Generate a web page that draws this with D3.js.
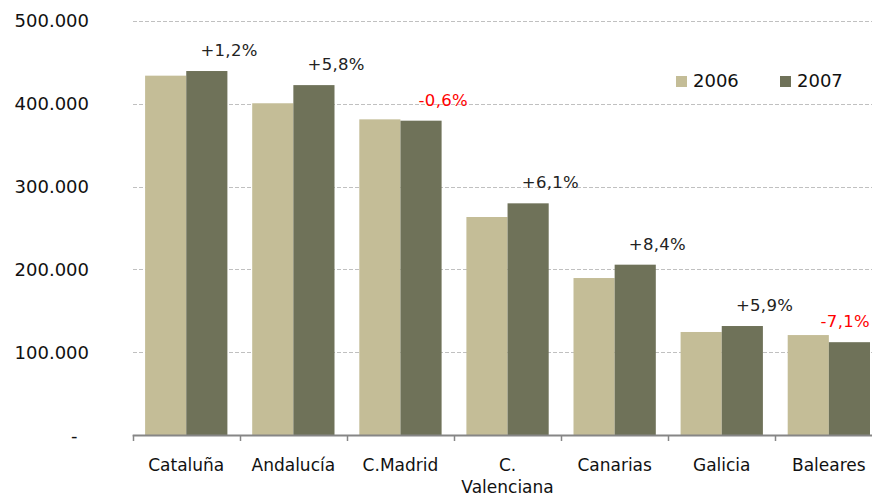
<!DOCTYPE html>
<html lang="es">
<head>
<meta charset="utf-8">
<title>2006 vs 2007 por comunidad</title>
<script src="https://cdn.jsdelivr.net/npm/d3@7"></script>
<style>
  body { margin: 0; background: #fff; }
  svg { display: block; font-family: "DejaVu Sans", Verdana, sans-serif; }
</style>
</head>
<body>
<script>
// datos
var categorias = ["Cataluña", "Andalucía", "C.Madrid", "C. Valenciana", "Canarias", "Galicia", "Baleares"];
var valores2006 = [433700, 400400, 381000, 263200, 189600, 124500, 120800];
var valores2007 = [439300, 422300, 379400, 279700, 205700, 131700, 112200];
var variacion = ["+1,2%", "+5,8%", "-0,6%", "+6,1%", "+8,4%", "+5,9%", "-7,1%"];
var series = ["2006", "2007"];
var yTicks = [0, 100000, 200000, 300000, 400000, 500000];

var w = 872, h = 495;
var colores = { "2006": "#c4bd97", "2007": "#6f7259" };

var svg = d3.select("body").append("svg")
    .attr("width", w)
    .attr("height", h);

// escalas
var x = d3.scaleBand()
    .domain(categorias)
    .range([132.7, 132.7 + 107.1 * categorias.length])
    .paddingInner(0)
    .paddingOuter(0);

var xIn = d3.scaleBand()
    .domain(series)
    .range([12.4, 107.1 - 12.4]);

var y = d3.scaleLinear()
    .domain([0, 500000])
    .range([435.2, 20.7]);

var fmt = function(d) {
    if (d === 0) return "-\u00a0\u00a0";
    return d3.format(",")(d).replace(/,/g, ".");
};

// lineas de cuadricula
svg.append("g")
    .selectAll("line")
    .data(yTicks.filter(function(d) { return d > 0; }))
    .enter().append("line")
    .attr("x1", 133)
    .attr("x2", w)
    .attr("y1", function(d) { return Math.round(y(d)) + 0.5; })
    .attr("y2", function(d) { return Math.round(y(d)) + 0.5; })
    .attr("stroke", "#c0c0c0")
    .attr("stroke-width", 1)
    .attr("stroke-dasharray", "4,2");

// etiquetas eje y
svg.append("g")
    .selectAll("text")
    .data(yTicks)
    .enter().append("text")
    .attr("x", 89)
    .attr("y", function(d) { return y(d); })
    .attr("dy", "0.36em")
    .attr("text-anchor", "end")
    .attr("font-size", 18)
    .attr("fill", "#111")
    .text(fmt);

// barras
var filas = categorias.map(function(c, i) {
    return { cat: c, vals: [
        { s: "2006", v: valores2006[i] },
        { s: "2007", v: valores2007[i] }
    ], pct: variacion[i] };
});

var grupos = svg.append("g")
    .selectAll("g")
    .data(filas)
    .enter().append("g")
    .attr("transform", function(d) { return "translate(" + x(d.cat) + ",0)"; });

grupos.selectAll("rect")
    .data(function(d) { return d.vals; })
    .enter().append("rect")
    .attr("x", function(d) { return xIn(d.s); })
    .attr("width", xIn.bandwidth())
    .attr("y", function(d) { return y(d.v); })
    .attr("height", function(d) { return y(0) - y(d.v); })
    .attr("fill", function(d) { return colores[d.s]; });

// etiquetas de variacion
grupos.append("text")
    .attr("x", x.step() * 0.9)
    .attr("y", function(d) { return y(d.vals[1].v) - 15; })
    .attr("text-anchor", "middle")
    .attr("font-size", 16.5)
    .attr("letter-spacing", 0.3)
    .attr("fill", function(d) { return d.pct.charAt(0) === "-" ? "#ff0000" : "#222"; })
    .text(function(d) { return d.pct; })
    .each(function(d) {
        // que no se salga por la derecha
        var ancho = this.getComputedTextLength();
        var cx = x(d.cat) + x.step() * 0.9;
        if (cx + ancho / 2 > w - 2) {
            d3.select(this).attr("x", w - 2 - ancho / 2 - x(d.cat));
        }
    });

// eje x
var ejeX = svg.append("g");
ejeX.append("line")
    .attr("x1", 132.7)
    .attr("x2", w)
    .attr("y1", 435.5)
    .attr("y2", 435.5)
    .attr("stroke", "#868686")
    .attr("stroke-width", 2);

ejeX.selectAll("line.tick")
    .data(categorias)
    .enter().append("line")
    .attr("class", "tick")
    .attr("x1", function(d) { return Math.round(x(d)) + 0.5; })
    .attr("x2", function(d) { return Math.round(x(d)) + 0.5; })
    .attr("y1", 435)
    .attr("y2", 441)
    .attr("stroke", "#868686")
    .attr("stroke-width", 1.5);

ejeX.selectAll("text")
    .data(categorias)
    .enter().append("text")
    .attr("x", function(d) { return x(d) + x.bandwidth() / 2; })
    .attr("y", 471)
    .attr("text-anchor", "middle")
    .attr("font-size", 17)
    .attr("fill", "#111")
    .each(function(d) {
        var partes = d.indexOf(". ") > 0 ? [d.split(" ")[0], d.split(" ")[1]] : [d];
        var t = d3.select(this);
        partes.forEach(function(p, i) {
            t.append("tspan")
                .attr("x", x(d) + x.bandwidth() / 2)
                .attr("dy", i === 0 ? 0 : 21.5)
                .text(p);
        });
    });

// leyenda
var ley = svg.append("g")
    .selectAll("g")
    .data(series)
    .enter().append("g")
    .attr("transform", function(d, i) { return "translate(" + (676 + i * 104) + ",76)"; });

ley.append("rect")
    .attr("width", 11)
    .attr("height", 11)
    .attr("fill", function(d) { return colores[d]; });

ley.append("text")
    .attr("x", 17)
    .attr("y", 11)
    .attr("font-size", 18)
    .attr("fill", "#111")
    .text(function(d) { return d; });
</script>
</body>
</html>
